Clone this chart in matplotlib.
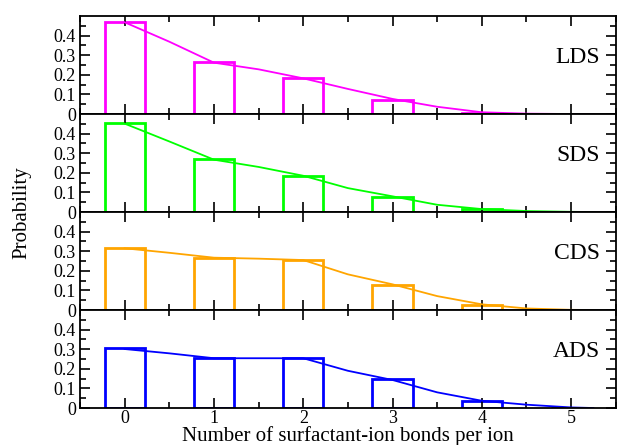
import matplotlib
matplotlib.use('Agg')
import matplotlib.pyplot as plt
import numpy as np

plt.rcParams['font.family'] = ['Liberation Serif', 'DejaVu Serif']

# number of surfactant-ion bonds per ion
bonds = [0, 1, 2, 3, 4, 5]
names = ['LDS', 'SDS', 'CDS', 'ADS']
colors = ['#ff00ff', '#00ff00', '#ffa500', '#0000ff']

# histogram heights
lds_bars = [0.468, 0.266, 0.182, 0.072, 0.005, 0.001]
sds_bars = [0.452, 0.269, 0.184, 0.075, 0.015, 0.002]
cds_bars = [0.318, 0.267, 0.256, 0.129, 0.028, 0.002]
ads_bars = [0.306, 0.253, 0.256, 0.146, 0.037, 0.002]

# fitted curves, read at half-integer steps
curve_x = [0, 0.5, 1, 1.5, 2, 2.5, 3, 3.5, 4, 4.5, 5, 5.25]
lds_curve = [0.468, 0.369, 0.262, 0.228, 0.182, 0.128, 0.077, 0.037, 0.009, 0.002, 0.0, 0.0]
sds_curve = [0.451, 0.360, 0.267, 0.230, 0.185, 0.122, 0.080, 0.037, 0.015, 0.005, 0.001, 0.0]
cds_curve = [0.315, 0.292, 0.267, 0.262, 0.255, 0.182, 0.131, 0.071, 0.029, 0.008, 0.001, 0.0]
ads_curve = [0.301, 0.279, 0.254, 0.254, 0.254, 0.190, 0.143, 0.080, 0.037, 0.017, 0.003, 0.0]

all_bars = [lds_bars, sds_bars, cds_bars, ads_bars]
all_curves = [lds_curve, sds_curve, cds_curve, ads_curve]

fig, axes = plt.subplots(4, 1, figsize=(6.17, 4.45), dpi=100, sharex=True)
fig.subplots_adjust(left=0.1297, right=0.998, top=0.964, bottom=0.0831, hspace=0)

for ax, name, col, bars, curve in zip(axes, names, colors, all_bars, all_curves):
    ax.bar(bonds, bars, width=0.45, fill=False, edgecolor=col, linewidth=2)
    ax.plot(curve_x, curve, color=col, linewidth=1.3)
    ax.set_xlim(-0.5, 5.5)
    ax.set_ylim(0, 0.5)
    ax.set_yticks([0, 0.1, 0.2, 0.3, 0.4])
    ax.set_yticklabels(['0', '0.1', '0.2', '0.3', '0.4'])
    ax.set_yticks(np.arange(0.05, 0.5, 0.1), minor=True)
    ax.set_xticks(bonds)
    ax.set_xticks([-0.5 + i for i in range(7)], minor=True)
    ax.tick_params(which='both', direction='in', top=True, right=True,
                   labelsize=13, width=1.2, pad=3)
    ax.tick_params(axis='x', pad=1.5)
    ax.tick_params(which='major', length=7)
    ax.tick_params(which='minor', length=4)
    for s in ax.spines.values():
        s.set_linewidth(1.3)
    ax.text(0.97, 0.58, name, transform=ax.transAxes, ha='right', va='center',
            fontsize=17)

axes[-1].set_xlabel('Number of surfactant-ion bonds per ion', fontsize=15, labelpad=-1)
fig.text(0.035, 0.523, 'Probability', rotation=90, ha='center', va='center', fontsize=15)

fig.savefig('out.png', dpi=100)
